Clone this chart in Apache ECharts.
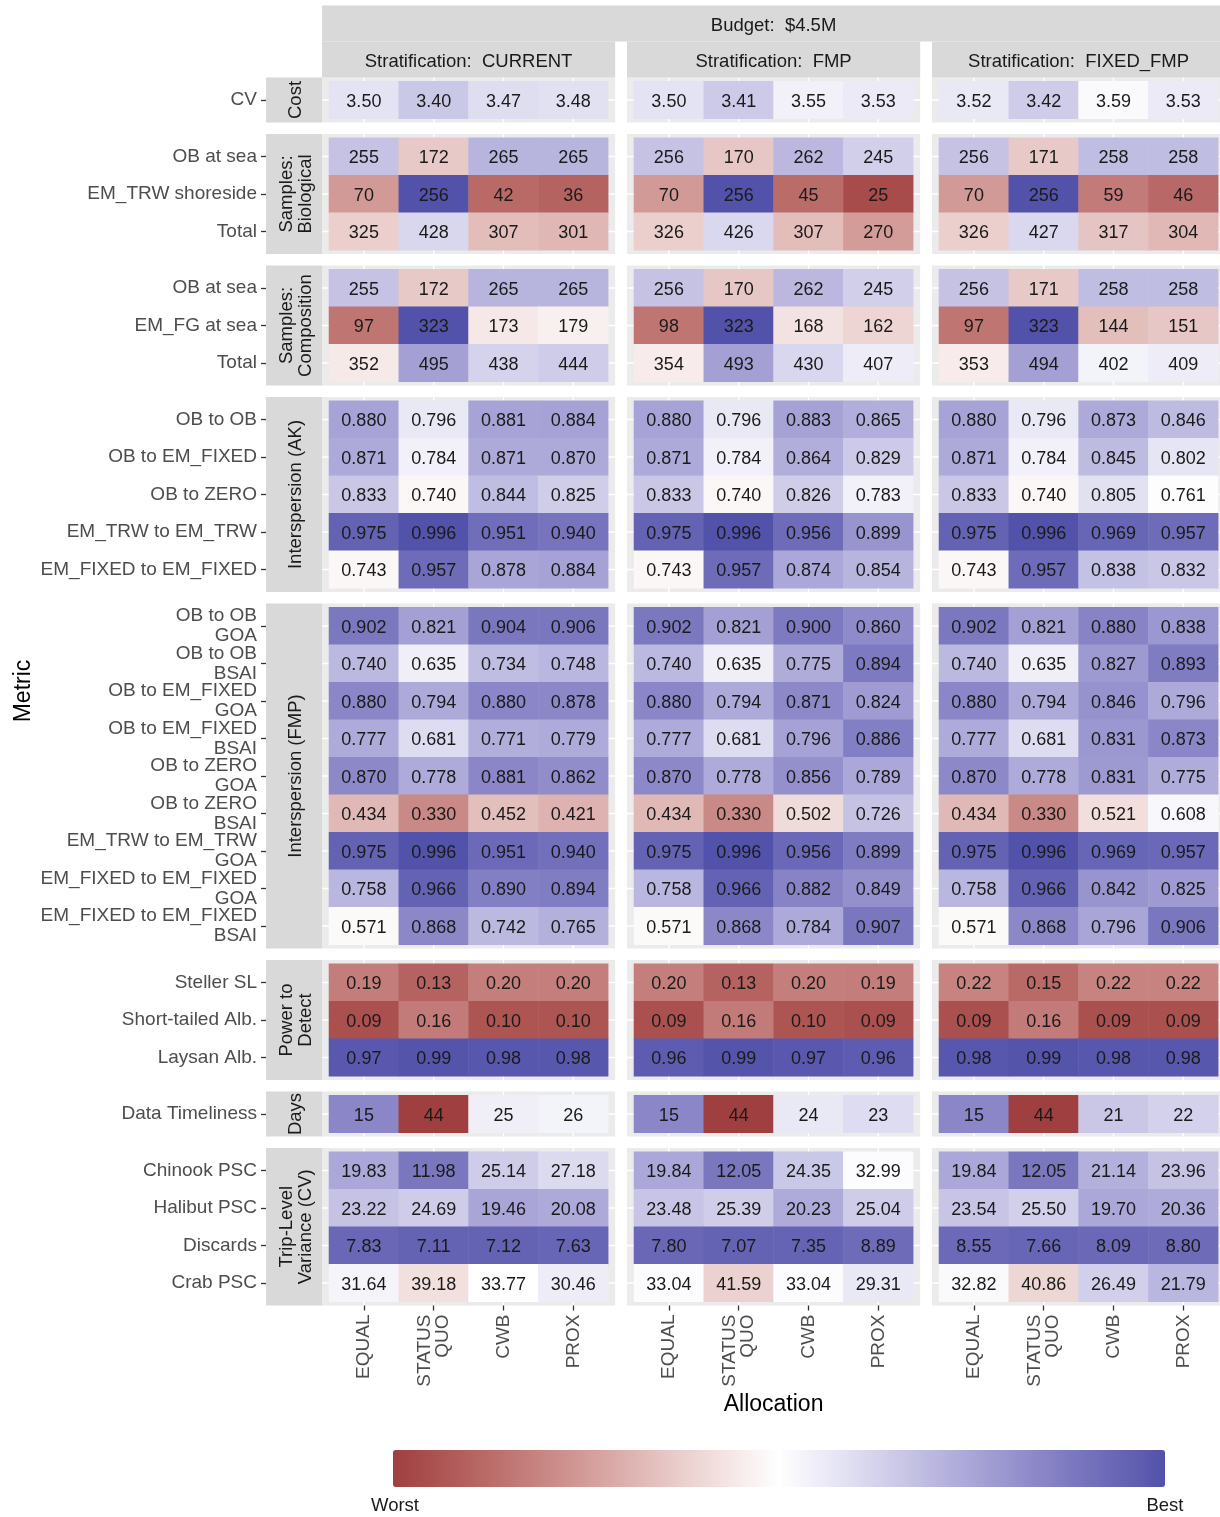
<!DOCTYPE html>
<html><head><meta charset="utf-8">
<script src="https://cdn.jsdelivr.net/npm/echarts@6/dist/echarts.min.js"></script>
<style>html,body{margin:0;padding:0;background:#fff}#c{width:1220px;height:1517px}</style>
</head><body><div id="c"></div>
<script>
// ---------- DATA ----------
const allocations = ['EQUAL', 'STATUS\nQUO', 'CWB', 'PROX'];
const stratifications = ['CURRENT', 'FMP', 'FIXED_FMP'];
const budgetLabel = 'Budget:  $4.5M';
const groupNames = ['Cost', 'Samples:\nBiological', 'Samples:\nComposition', 'Interspersion (AK)',
  'Interspersion (FMP)', 'Power to\nDetect', 'Days', 'Trip-Level\nVariance (CV)'];

const metricsCost = ['CV'];
const metricsBio = ['OB at sea', 'EM_TRW shoreside', 'Total'];
const metricsComp = ['OB at sea', 'EM_FG at sea', 'Total'];
const metricsAK = ['OB to OB', 'OB to EM_FIXED', 'OB to ZERO', 'EM_TRW to EM_TRW', 'EM_FIXED to EM_FIXED'];
const metricsFMP = ['OB to OB\nGOA', 'OB to OB\nBSAI', 'OB to EM_FIXED\nGOA', 'OB to EM_FIXED\nBSAI',
  'OB to ZERO\nGOA', 'OB to ZERO\nBSAI', 'EM_TRW to EM_TRW\nGOA', 'EM_FIXED to EM_FIXED\nGOA', 'EM_FIXED to EM_FIXED\nBSAI'];
const metricsPower = ['Steller SL', 'Short-tailed Alb.', 'Laysan Alb.'];
const metricsDays = ['Data Timeliness'];
const metricsTrip = ['Chinook PSC', 'Halibut PSC', 'Discards', 'Crab PSC'];

// values: each row = CURRENT(EQUAL,SQ,CWB,PROX), FMP(...), FIXED_FMP(...)
const valuesCost = [['3.50','3.40','3.47','3.48','3.50','3.41','3.55','3.53','3.52','3.42','3.59','3.53']];
const valuesBio = [
  ['255','172','265','265','256','170','262','245','256','171','258','258'],
  ['70','256','42','36','70','256','45','25','70','256','59','46'],
  ['325','428','307','301','326','426','307','270','326','427','317','304']];
const valuesComp = [
  ['255','172','265','265','256','170','262','245','256','171','258','258'],
  ['97','323','173','179','98','323','168','162','97','323','144','151'],
  ['352','495','438','444','354','493','430','407','353','494','402','409']];
const valuesAK = [
  ['0.880','0.796','0.881','0.884','0.880','0.796','0.883','0.865','0.880','0.796','0.873','0.846'],
  ['0.871','0.784','0.871','0.870','0.871','0.784','0.864','0.829','0.871','0.784','0.845','0.802'],
  ['0.833','0.740','0.844','0.825','0.833','0.740','0.826','0.783','0.833','0.740','0.805','0.761'],
  ['0.975','0.996','0.951','0.940','0.975','0.996','0.956','0.899','0.975','0.996','0.969','0.957'],
  ['0.743','0.957','0.878','0.884','0.743','0.957','0.874','0.854','0.743','0.957','0.838','0.832']];
const valuesFMP = [
  ['0.902','0.821','0.904','0.906','0.902','0.821','0.900','0.860','0.902','0.821','0.880','0.838'],
  ['0.740','0.635','0.734','0.748','0.740','0.635','0.775','0.894','0.740','0.635','0.827','0.893'],
  ['0.880','0.794','0.880','0.878','0.880','0.794','0.871','0.824','0.880','0.794','0.846','0.796'],
  ['0.777','0.681','0.771','0.779','0.777','0.681','0.796','0.886','0.777','0.681','0.831','0.873'],
  ['0.870','0.778','0.881','0.862','0.870','0.778','0.856','0.789','0.870','0.778','0.831','0.775'],
  ['0.434','0.330','0.452','0.421','0.434','0.330','0.502','0.726','0.434','0.330','0.521','0.608'],
  ['0.975','0.996','0.951','0.940','0.975','0.996','0.956','0.899','0.975','0.996','0.969','0.957'],
  ['0.758','0.966','0.890','0.894','0.758','0.966','0.882','0.849','0.758','0.966','0.842','0.825'],
  ['0.571','0.868','0.742','0.765','0.571','0.868','0.784','0.907','0.571','0.868','0.796','0.906']];
const valuesPower = [
  ['0.19','0.13','0.20','0.20','0.20','0.13','0.20','0.19','0.22','0.15','0.22','0.22'],
  ['0.09','0.16','0.10','0.10','0.09','0.16','0.10','0.09','0.09','0.16','0.09','0.09'],
  ['0.97','0.99','0.98','0.98','0.96','0.99','0.97','0.96','0.98','0.99','0.98','0.98']];
const valuesDays = [['15','44','25','26','15','44','24','23','15','44','21','22']];
const valuesTrip = [
  ['19.83','11.98','25.14','27.18','19.84','12.05','24.35','32.99','19.84','12.05','21.14','23.96'],
  ['23.22','24.69','19.46','20.08','23.48','25.39','20.23','25.04','23.54','25.50','19.70','20.36'],
  ['7.83','7.11','7.12','7.63','7.80','7.07','7.35','8.89','8.55','7.66','8.09','8.80'],
  ['31.64','39.18','33.77','30.46','33.04','41.59','33.04','29.31','32.82','40.86','26.49','21.79']];

const scoresCost = [[0.16,0.31,0.19,0.17, 0.16,0.30,0.08,0.12, 0.13,0.29,0.03,0.12]];
const scoresBio = [
  [0.34,-0.28,0.42,0.42, 0.34,-0.29,0.40,0.27, 0.34,-0.28,0.37,0.37],
  [-0.51,1.0,-0.76,-0.80, -0.51,1.0,-0.75,-0.93, -0.51,1.0,-0.67,-0.77],
  [-0.25,0.23,-0.34,-0.37, -0.25,0.22,-0.34,-0.50, -0.25,0.22,-0.30,-0.36]];
const scoresComp = [
  [0.34,-0.28,0.42,0.42, 0.34,-0.29,0.40,0.27, 0.34,-0.28,0.37,0.37],
  [-0.70,1.0,-0.12,-0.08, -0.70,1.0,-0.15,-0.22, -0.70,1.0,-0.33,-0.29],
  [-0.11,0.53,0.25,0.29, -0.10,0.53,0.23,0.10, -0.10,0.53,0.07,0.10]];
const scoresAK = [
  [0.51,0.13,0.51,0.52, 0.51,0.13,0.52,0.45, 0.51,0.13,0.48,0.38],
  [0.48,0.08,0.48,0.48, 0.48,0.08,0.45,0.30, 0.48,0.08,0.38,0.15],
  [0.32,-0.04,0.37,0.28, 0.32,-0.04,0.28,0.08, 0.32,-0.04,0.17,0.01],
  [0.90,1.0,0.83,0.79, 0.90,1.0,0.84,0.60, 0.90,1.0,0.88,0.84],
  [-0.04,0.84,0.50,0.52, -0.04,0.84,0.49,0.42, -0.04,0.84,0.35,0.32]];
const scoresFMP = [
  [0.76,0.53,0.77,0.77, 0.76,0.53,0.75,0.65, 0.76,0.53,0.70,0.58],
  [0.39,0.09,0.37,0.41, 0.39,0.09,0.46,0.75, 0.39,0.09,0.57,0.74],
  [0.68,0.48,0.68,0.67, 0.68,0.48,0.66,0.55, 0.68,0.48,0.61,0.48],
  [0.47,0.20,0.45,0.47, 0.47,0.20,0.52,0.72, 0.47,0.20,0.58,0.68],
  [0.66,0.47,0.68,0.64, 0.66,0.47,0.62,0.49, 0.66,0.47,0.57,0.46],
  [-0.36,-0.60,-0.33,-0.39, -0.36,-0.60,-0.19,0.34, -0.36,-0.60,-0.17,0.04],
  [0.90,1.0,0.85,0.82, 0.90,1.0,0.86,0.74, 0.90,1.0,0.88,0.86],
  [0.41,0.90,0.72,0.73, 0.41,0.90,0.70,0.62, 0.41,0.90,0.60,0.56],
  [-0.03,0.67,0.39,0.44, -0.03,0.67,0.48,0.77, -0.03,0.67,0.50,0.77]];
const scoresPower = [
  [-0.66,-0.80,-0.65,-0.65, -0.65,-0.80,-0.65,-0.66, -0.63,-0.76,-0.63,-0.63],
  [-0.90,-0.67,-0.88,-0.88, -0.90,-0.67,-0.88,-0.90, -0.90,-0.67,-0.90,-0.90],
  [0.96,0.99,0.97,0.97, 0.94,0.99,0.96,0.94, 0.97,0.99,0.97,0.97]];
const scoresDays = [[0.68,-1.0,0.09,0.07, 0.68,-1.0,0.13,0.20, 0.68,-1.0,0.32,0.26]];
const scoresTrip = [
  [0.49,0.77,0.29,0.21, 0.49,0.77,0.31,0.02, 0.49,0.77,0.44,0.34],
  [0.34,0.29,0.50,0.48, 0.33,0.28,0.47,0.29, 0.33,0.27,0.49,0.47],
  [0.87,0.90,0.90,0.88, 0.87,0.90,0.89,0.84, 0.85,0.88,0.86,0.84],
  [0.06,-0.16,0.00,0.10, 0.02,-0.24,0.02,0.13, 0.03,-0.21,0.27,0.41]];

const fillColors = ['#A03F3F','#BA6C69','#D39C99','#EACFCD','#FFFFFF','#D5D3EC','#A9A5D7','#7E7AC1','#5252AA'];

// ---------- LAYOUT ----------
const groups = [
  {m: metricsCost, v: valuesCost, s: scoresCost},
  {m: metricsBio, v: valuesBio, s: scoresBio},
  {m: metricsComp, v: valuesComp, s: scoresComp},
  {m: metricsAK, v: valuesAK, s: scoresAK},
  {m: metricsFMP, v: valuesFMP, s: scoresFMP},
  {m: metricsPower, v: valuesPower, s: scoresPower},
  {m: metricsDays, v: valuesDays, s: scoresDays},
  {m: metricsTrip, v: valuesTrip, s: scoresTrip}];

const FONT = '"Liberation Sans", Arial, Helvetica, sans-serif';
const UX = 69.8, UY = 37.5;
const PANEL_W = 4.2 * UX, COL_STEP = 305, LEFT0 = 322;
const TOP0 = 77.5, GAP = 11.5;
const STRIP_X = 266, STRIP_W = 56;
const TXT_SHIFT = 2;

function txt(x, y, text, size, color, rot) {
  return {type: 'text', x: x, y: y, rotation: rot || 0, z: 1,
    style: {text: text, fill: color, font: size + 'px ' + FONT, textAlign: 'center', textVerticalAlign: 'middle',
      align: 'center', verticalAlign: 'middle', lineHeight: 19}};
}

const gridList = [], xAxisList = [], yAxisList = [], seriesList = [], graphicList = [];
let panelTop = TOP0;
groups.forEach((g, gi) => {
  const n = g.m.length;
  const ph = (n + 0.2) * UY;
  const last = gi === groups.length - 1;
  graphicList.push({type: 'rect', shape: {x: STRIP_X, y: panelTop, width: STRIP_W, height: ph}, style: {fill: '#D9D9D9'}, z: 0});
  graphicList.push(txt(STRIP_X + STRIP_W / 2 + TXT_SHIFT, panelTop + ph / 2, groupNames[gi], 18.5, '#1A1A1A', Math.PI / 2));
  stratifications.forEach((st, ci) => {
    const pl = LEFT0 + ci * COL_STEP;
    graphicList.push({type: 'rect', shape: {x: pl, y: panelTop, width: PANEL_W, height: ph}, style: {fill: '#EBEBEB'}, z: 0});
    for (let k = 0; k < 4; k++) {
      const x = pl + (0.6 + k) * UX;
      graphicList.push({type: 'line', shape: {x1: x, y1: panelTop, x2: x, y2: panelTop + ph}, style: {stroke: '#FFFFFF', lineWidth: 1.4}, z: 0});
    }
    for (let r = 0; r < n; r++) {
      const y = panelTop + (0.6 + r) * UY;
      graphicList.push({type: 'line', shape: {x1: pl, y1: y, x2: pl + PANEL_W, y2: y}, style: {stroke: '#FFFFFF', lineWidth: 1.4}, z: 0});
    }
    const idx = gridList.length;
    gridList.push({left: pl + 0.1 * UX, top: panelTop + 0.1 * UY, width: 4 * UX, height: n * UY, containLabel: false});
    xAxisList.push({type: 'category', gridIndex: idx, data: allocations, offset: 0.1 * UY,
      axisLine: {show: false}, splitLine: {show: false},
      axisTick: {show: last, alignWithLabel: true, length: 5, lineStyle: {color: '#333333', width: 1.3}},
      axisLabel: {show: last, rotate: 90, interval: 0, margin: 9, fontSize: 19, lineHeight: 18, padding: [6, 0, 0, 0],
        color: '#4D4D4D', fontFamily: FONT}});
    yAxisList.push({type: 'category', gridIndex: idx, data: g.m, inverse: true, offset: pl + 0.1 * UX - STRIP_X,
      axisLine: {show: false}, splitLine: {show: false},
      axisTick: {show: ci === 0, alignWithLabel: true, length: 5, lineStyle: {color: '#333333', width: 1.3}},
      axisLabel: {show: ci === 0, interval: 0, margin: 9, fontSize: 19, lineHeight: 20, padding: [7, 0, 0, 0],
        color: '#4D4D4D', fontFamily: FONT}});
    const data = [], labels = [];
    for (let r = 0; r < n; r++) {
      for (let a = 0; a < 4; a++) {
        data.push([a, r, g.s[r][ci * 4 + a]]);
        labels.push(g.v[r][ci * 4 + a]);
      }
    }
    seriesList.push({type: 'heatmap', xAxisIndex: idx, yAxisIndex: idx, data: data,
      itemStyle: {borderWidth: 0},
      emphasis: {disabled: true},
      label: {show: true, formatter: p => labels[p.dataIndex], offset: [0, TXT_SHIFT], color: '#1A1A1A', fontSize: 18, fontFamily: FONT}});
  });
  panelTop += ph + GAP;
});

const TOTAL_W = 2 * COL_STEP + PANEL_W;
graphicList.push({type: 'rect', shape: {x: LEFT0, y: 5.5, width: TOTAL_W, height: 36}, style: {fill: '#D9D9D9'}, z: 0});
graphicList.push(txt(LEFT0 + TOTAL_W / 2, 23.5 + TXT_SHIFT, budgetLabel, 18.5, '#1A1A1A'));
stratifications.forEach((st, ci) => {
  const pl = LEFT0 + ci * COL_STEP;
  graphicList.push({type: 'rect', shape: {x: pl, y: 41.5, width: PANEL_W, height: 36}, style: {fill: '#D9D9D9'}, z: 0});
  graphicList.push(txt(pl + PANEL_W / 2, 59.5 + TXT_SHIFT, 'Stratification:  ' + st, 18.5, '#1A1A1A'));
});
graphicList.push(txt(22 + TXT_SHIFT, 691, 'Metric', 23, '#000000', Math.PI / 2));
graphicList.push(txt(LEFT0 + TOTAL_W / 2, 1403 + TXT_SHIFT, 'Allocation', 23, '#000000'));
graphicList.push(txt(395, 1506, 'Worst', 18.5, '#1A1A1A'));
graphicList.push(txt(1165, 1506, 'Best', 18.5, '#1A1A1A'));

const chart = echarts.init(document.getElementById('c'), null, {renderer: 'canvas'});
chart.setOption({
  backgroundColor: '#FFFFFF',
  animation: false,
  textStyle: {fontFamily: FONT},
  grid: gridList, xAxis: xAxisList, yAxis: yAxisList, series: seriesList, graphic: graphicList,
  visualMap: {
    type: 'continuous', min: -1, max: 1, dimension: 2, calculable: false, hoverLink: false,
    orient: 'horizontal', left: 393, top: 1450, itemWidth: 37, itemHeight: 772, padding: 0,
    text: null, inRange: {color: fillColors}
  }
});
</script></body></html>
